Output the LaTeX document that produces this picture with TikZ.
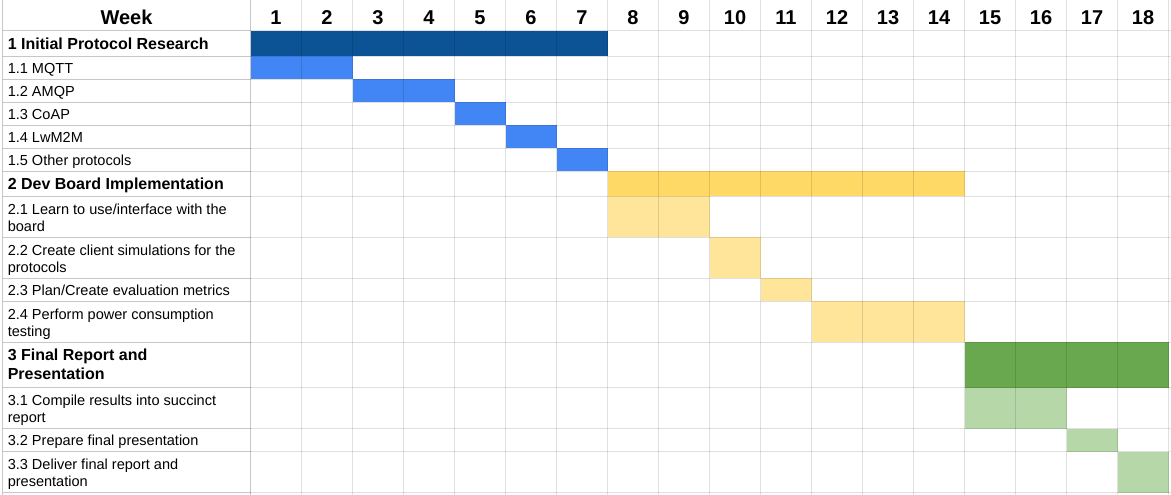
\documentclass[tikz,border=0pt]{standalone}
\usepackage{fontspec}
\setmainfont{Liberation Sans}
\usepackage{tikz}
\definecolor{planblue}{HTML}{0B5394}
\definecolor{taskblue}{HTML}{4285F4}
\definecolor{planyellow}{HTML}{FFD966}
\definecolor{taskyellow}{HTML}{FFE599}
\definecolor{plangreen}{HTML}{6AA84F}
\definecolor{taskgreen}{HTML}{B6D7A8}
\newcommand{\headfont}{\fontsize{15}{18}\selectfont\bfseries}
\newcommand{\groupfont}{\fontsize{12}{14}\selectfont\bfseries}
\newcommand{\taskfont}{\fontsize{10.9}{12.5}\selectfont}
% one bar: top, bottom, first week, last week, colour
\newcommand{\weekbar}[5]{\fill[#5] ({250.5+51*(#3-1)},#1) rectangle ({250.5+51*#4},#2);}

\begin{document}
\begin{tikzpicture}[x=0.75pt,y=-0.75pt,
 every node/.style={inner sep=0pt},
 head/.style={font=\headfont,anchor=base},
 group/.style={font=\groupfont,anchor=south west,align=left,text depth=0pt},
 task/.style={font=\taskfont,anchor=south west,align=left,text depth=0pt},
 gridline/.style={black,opacity=.12,line width=.75pt},
 labelline/.style={black,opacity=.22,line width=.75pt}]
 \useasboundingbox (0,0) rectangle (1171,495);
 % bars
 \weekbar{31}{56.5}{1}{7}{planblue}
 \weekbar{56.5}{79.5}{1}{2}{taskblue}
 \weekbar{79.5}{102.5}{3}{4}{taskblue}
 \weekbar{102.5}{125.5}{5}{5}{taskblue}
 \weekbar{125.5}{148.5}{6}{6}{taskblue}
 \weekbar{148.5}{171.5}{7}{7}{taskblue}
 \weekbar{171.5}{196.5}{8}{14}{planyellow}
 \weekbar{196.5}{237.5}{8}{9}{taskyellow}
 \weekbar{237.5}{278.5}{10}{10}{taskyellow}
 \weekbar{278.5}{301.5}{11}{11}{taskyellow}
 \weekbar{301.5}{342.5}{12}{14}{taskyellow}
 \weekbar{342.5}{387.5}{15}{18}{plangreen}
 \weekbar{387.5}{428.5}{15}{16}{taskgreen}
 \weekbar{428.5}{451.5}{17}{17}{taskgreen}
 \weekbar{451.5}{492.5}{18}{18}{taskgreen}
 % grid
 \foreach \y in {31,56.5,79.5,102.5,125.5,148.5,171.5,196.5,237.5,278.5,301.5,342.5,387.5,428.5,451.5,492.5} {
  \draw[labelline] (2.5,\y) -- (250.5,\y);
  \draw[gridline] (250.5,\y) -- (1171,\y);
 }
 \foreach \k in {1,...,18}
  \draw[gridline] ({250.5+51*\k},0) -- ({250.5+51*\k},495);
 \draw[labelline] (2.5,0) -- (2.5,495) (250.5,0) -- (250.5,495);
 % header
 \node[head] (week) at (126.5,25) {Week};
 \foreach \k in {1,...,18}
  \node[head] (w\k) at ({276+51*(\k-1)},25) {\k};
 % labels
 \node[group] (g1) at (7.5,50) {1 Initial Protocol Research};
 \node[task] (t11) at (7.5,73.5) {1.1 MQTT};
 \node[task] (t12) at (7.5,96.5) {1.2 AMQP};
 \node[task] (t13) at (7.5,119.5) {1.3 CoAP};
 \node[task] (t14) at (7.5,142.5) {1.4 LwM2M};
 \node[task] (t15) at (7.5,165.5) {1.5 Other protocols};
 \node[group] (g2) at (7.5,190) {2 Dev Board Implementation};
 \node[task] (t21) at (7.5,231.5) {2.1 Learn to use/interface with the\\board};
 \node[task] (t22) at (7.5,272.5) {2.2 Create client simulations for the\\protocols};
 \node[task] (t23) at (7.5,295.5) {2.3 Plan/Create evaluation metrics};
 \node[task] (t24) at (7.5,336.5) {2.4 Perform power consumption\\testing};
 \node[group] (g3) at (7.5,379.5) {3 Final Report and\\Presentation};
 \node[task] (t31) at (7.5,422.5) {3.1 Compile results into succinct\\report};
 \node[task] (t32) at (7.5,445.5) {3.2 Prepare final presentation};
 \node[task] (t33) at (7.5,486.5) {3.3 Deliver final report and\\presentation};
\end{tikzpicture}
\end{document}
